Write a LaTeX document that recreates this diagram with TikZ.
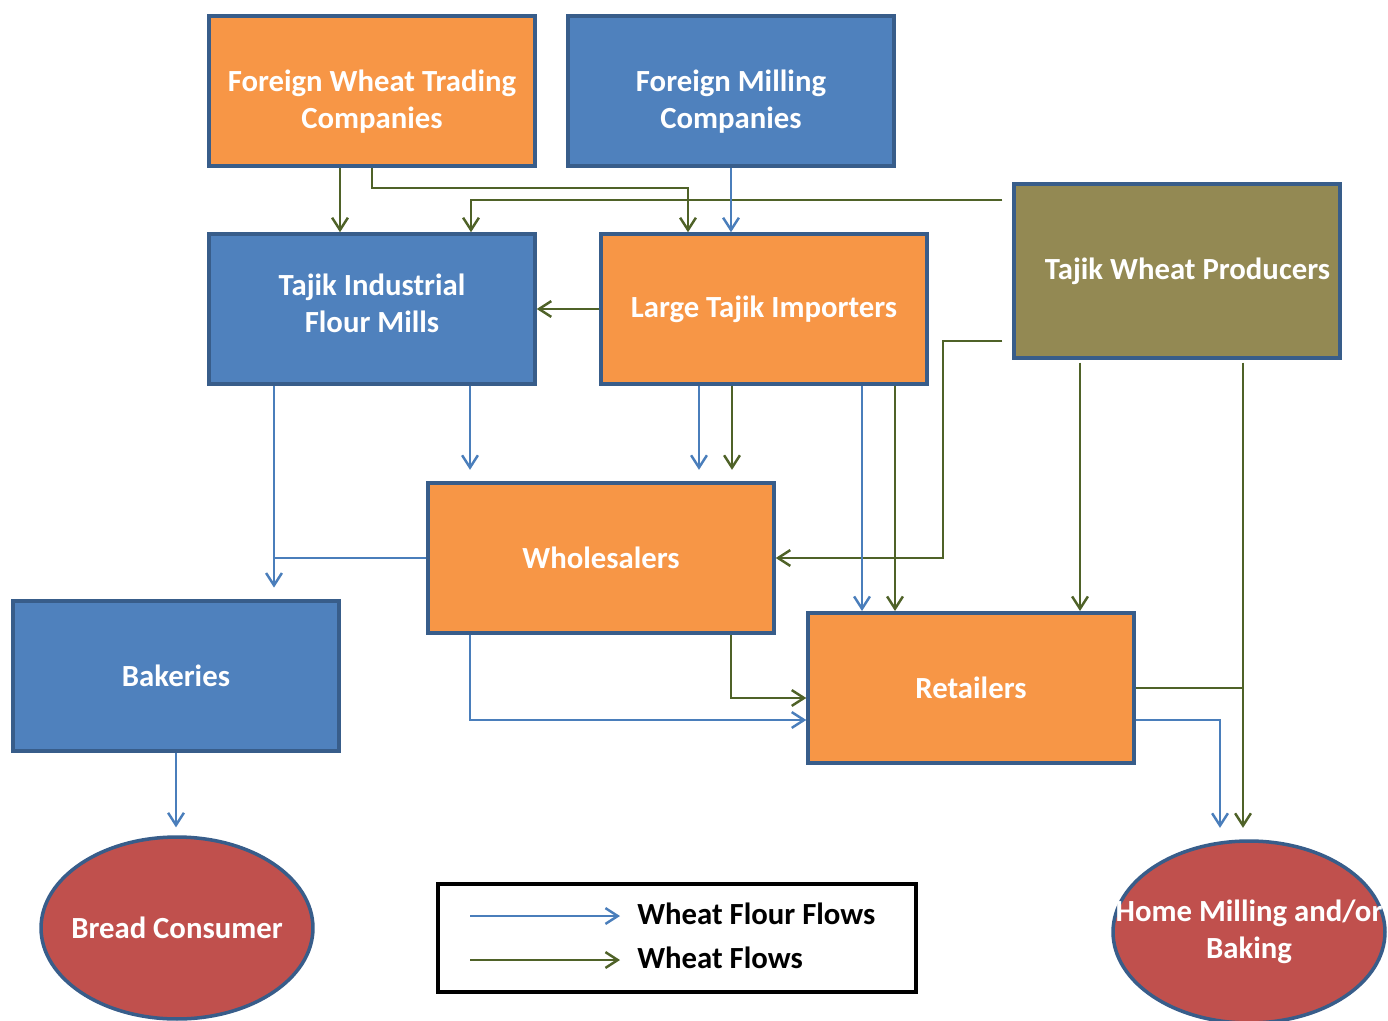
\documentclass[tikz,border=0pt]{standalone}
\usepackage{fontspec}
\setmainfont{Carlito}
\definecolor{boxorange}{HTML}{F79646}
\definecolor{boxblue}{HTML}{4F81BD}
\definecolor{boxolive}{HTML}{938953}
\definecolor{boxred}{HTML}{C0504D}
\definecolor{boxline}{HTML}{385D8A}
\definecolor{flourblue}{HTML}{4A7EBB}
\definecolor{wheatgreen}{HTML}{4F6228}
\usepackage{tikz}
\usetikzlibrary{arrows.meta,positioning,calc,shapes.geometric}

\begin{document}
\begin{tikzpicture}[x=0.02cm,y=-0.02cm,
    box/.style={draw=boxline,line width=2pt,minimum width=6.52cm,
      minimum height=3.01cm,inner sep=0pt,align=center,text=white,
      font=\bfseries\fontsize{17.5}{21}\selectfont},
    oval/.style={box,ellipse,minimum width=5.44cm,minimum height=3.64cm},
    flour/.style={flourblue,line width=1.4pt,
      -{Straight Barb[length=7pt,width=9pt]}},
    wheat/.style={wheatgreen,line width=1.4pt,
      -{Straight Barb[length=7pt,width=9pt]}},
    gap/.style={shorten >=6.5pt}]
        \useasboundingbox (0,0) rectangle (1388,1020);
        % ---- qutilar ----
        \node[box,fill=boxorange] (fwt) at (372,91)
            {\rule{0pt}{24pt}Foreign Wheat Trading\\Companies};
        \node[box,fill=boxblue] (fmc) at (731,91)
            {\rule{0pt}{24pt}Foreign Milling\\Companies};
        \node[box,fill=boxblue,minimum height=3cm] (tifm) at (372,309)
            {Tajik Industrial\\Flour Mills\rule[-7pt]{0pt}{7pt}};
        \node[box,fill=boxorange,minimum height=3cm] (lti) at (764,309)
            {Large Tajik Importers};
        \node[box,fill=boxolive,minimum height=3.48cm] (twp) at (1177,271)
            {\hspace*{12pt}\raisebox{3pt}{Tajik Wheat Producers}};
        \node[box,fill=boxorange,minimum width=6.92cm,minimum height=3cm]
            (whs) at (601,558) {Wholesalers};
        \node[box,fill=boxblue] (bak) at (176,676) {Bakeries};
        \node[box,fill=boxorange] (ret) at (971,688) {Retailers};
        % ---- ovallar ----
        \node[oval,fill=boxred] (bread) at (177,928)
            {\makebox[0pt]{Bread Consumer}};
        \node[oval,fill=boxred] (home) at (1249,932)
            {\makebox[0pt]{Home Milling and/or}\\\makebox[0pt]{Baking}};
        % ---- tayanch nuqtalar ----
        \coordinate (fwt-w) at ($(fwt.south)+(-32,0)$);
        \coordinate (lti-in) at ($(lti.north)+(-76,-44)$);
        \coordinate (twp-w1) at ($(twp.west)+(-10,-71)$);
        \coordinate (twp-w2) at ($(twp.west)+(-10,70)$);
        \coordinate (tifm-in) at ($(tifm.north)+(99,0)$);
        \coordinate (bend) at ($(lti.east)+(14,0)$);
        \coordinate (tifm-b1) at ($(tifm.south)+(-98,0)$);
        \coordinate (tifm-b2) at ($(tifm.south)+(98,0)$);
        \coordinate (lti-b1) at ($(lti.south)+(-65,0)$);
        \coordinate (lti-b2) at ($(lti.south)+(-32,0)$);
        \coordinate (lti-b3) at ($(lti.south)+(98,0)$);
        \coordinate (lti-b4) at ($(lti.south)+(131,0)$);
        \coordinate (twp-b1) at ($(twp.south)+(-97,3)$);
        \coordinate (twp-b2) at ($(twp.south)+(66,3)$);
        \coordinate (whs-b1) at ($(whs.south)+(-131,0)$);
        \coordinate (whs-b2) at ($(whs.south)+(130,0)$);
        \coordinate (ret-w1) at ($(ret.west)+(0,10)$);
        \coordinate (ret-w2) at ($(ret.west)+(0,32)$);
        \coordinate (ret-e2) at ($(ret.east)+(0,32)$);
        \coordinate (home-in) at ($(home.north)+(-29,0)$);
        % ---- bug'doy oqimlari ----
        \draw[wheat] (fwt-w) -- (fwt-w |- tifm.north);
        \draw[wheat] (fwt.south) |- (lti-in) -- (lti-in |- lti.north);
        \draw[wheat] (twp-w1) -| (tifm-in);
        \draw[wheat] (lti.west) -- (tifm.east);
        \draw[wheat,gap] (lti-b2) -- (lti-b2 |- whs.north);
        \draw[wheat] (twp-w2) -| (bend |- whs.east) -- (whs.east);
        \draw[wheat] (lti-b4) -- (lti-b4 |- ret.north);
        \draw[wheat] (twp-b1) -- (twp-b1 |- ret.north);
        \draw[wheat,gap] (twp-b2) -- (twp-b2 |- home.north);
        \draw[wheatgreen,line width=1.4pt] (ret.east) -- (ret.east -| twp-b2);
        \draw[wheat] (whs-b2) |- (ret-w1);
        % ---- un oqimlari ----
        \draw[flour] (fmc.south) -- (fmc.south |- lti.north);
        \draw[flour,gap] (tifm-b2) -- (tifm-b2 |- whs.north);
        \draw[flour,gap] (lti-b1) -- (lti-b1 |- whs.north);
        \draw[flour,gap] (tifm-b1) -- (tifm-b1 |- bak.north);
        \draw[flourblue,line width=1.4pt] (whs.west) -- (whs.west -| tifm-b1);
        \draw[flour] (lti-b3) -- (lti-b3 |- ret.north);
        \draw[flour] (whs-b1) |- (ret-w2);
        \draw[flour,gap] (ret-e2) -| (home-in);
        \draw[flour,shorten >=4.5pt] (bak.south) -- (bak.south |- bread.north);
        % ---- izoh ----
        \node[draw=black,line width=2pt,minimum width=9.56cm,minimum height=2.16cm]
            (legend) at (677,938) {};
        \node[anchor=west,inner sep=0pt,font=\bfseries\fontsize{17.5}{21}\selectfont]
            (lg1) at ($(legend.center)+(-40,-24)$) {Wheat Flour Flows};
        \node[anchor=west,inner sep=0pt,font=\bfseries\fontsize{17.5}{21}\selectfont]
            (lg2) at ($(legend.center)+(-40,20)$) {Wheat Flows};
        \coordinate (lg1-s) at ($(lg1.west)+(-167,2)$);
        \coordinate (lg2-s) at ($(lg2.west)+(-167,2)$);
        \draw[flour] (lg1-s) -- ($(lg1.west)+(-17,2)$);
        \draw[wheat] (lg2-s) -- ($(lg2.west)+(-17,2)$);
      \end{tikzpicture}
\end{document}
